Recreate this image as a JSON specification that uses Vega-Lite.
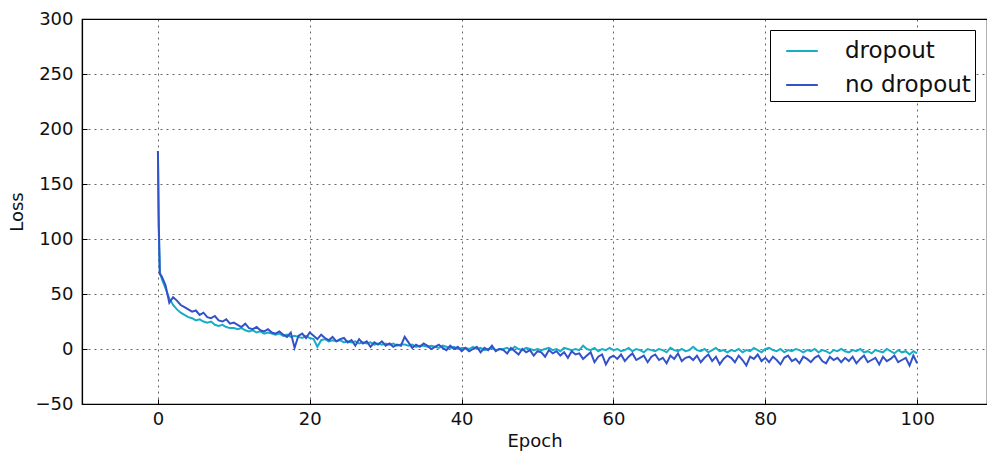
{
  "$schema": "https://vega.github.io/schema/vega-lite/v6.json",
  "autosize": {"type": "none"},
  "width": 905,
  "height": 385,
  "padding": {"left": 82, "top": 19, "right": 0, "bottom": 51},
  "background": "white",
  "config": {
    "font": "DejaVu Sans",
    "view": {"stroke": "black", "strokeWidth": 1.2},
    "axis": {
      "domainColor": "black", "domainWidth": 1.2,
      "tickColor": "black", "tickSize": -5,
      "labelFont": "DejaVu Sans", "labelFontSize": 18, "labelColor": "#111",
      "titleFont": "DejaVu Sans", "titleFontSize": 18, "titleFontWeight": "normal", "titleColor": "#111",
      "grid": true, "gridColor": "black", "gridOpacity": 0.6, "gridDash": [2, 4], "gridWidth": 1
    }
  },
  "data": {"values": [
    {"e":0,"dropout":180,"no dropout":180},
    {"e":0.1,"dropout":110,"no dropout":120},
    {"e":0.25,"dropout":70,"no dropout":68},
    {"e":0.5,"dropout":64,"no dropout":66},{"e":1,"dropout":55,"no dropout":58},{"e":1.5,"dropout":46,"no dropout":42},{"e":2,"dropout":40,"no dropout":47},{"e":2.5,"dropout":36,"no dropout":44},{"e":3,"dropout":33,"no dropout":40},{"e":3.5,"dropout":31,"no dropout":38},{"e":4,"dropout":29,"no dropout":36},{"e":4.5,"dropout":28,"no dropout":34},{"e":5,"dropout":26,"no dropout":35},
    {"e":5.5,"dropout":27,"no dropout":31},{"e":6,"dropout":25,"no dropout":33},{"e":6.5,"dropout":24,"no dropout":29},{"e":7,"dropout":25,"no dropout":28},{"e":7.5,"dropout":22,"no dropout":30},{"e":8,"dropout":21,"no dropout":26},{"e":8.5,"dropout":22,"no dropout":25},{"e":9,"dropout":20,"no dropout":27},{"e":9.5,"dropout":19,"no dropout":23},{"e":10,"dropout":19,"no dropout":24},
    {"e":10.5,"dropout":18,"no dropout":22},{"e":11,"dropout":19,"no dropout":20},{"e":11.5,"dropout":17,"no dropout":23},{"e":12,"dropout":16,"no dropout":19},{"e":12.5,"dropout":17,"no dropout":18},{"e":13,"dropout":15,"no dropout":20},{"e":13.5,"dropout":16,"no dropout":17},{"e":14,"dropout":14,"no dropout":16},{"e":14.5,"dropout":15,"no dropout":18},{"e":15,"dropout":14,"no dropout":15},
    {"e":15.5,"dropout":13,"no dropout":14},{"e":16,"dropout":14,"no dropout":16},{"e":16.5,"dropout":12,"no dropout":13},{"e":17,"dropout":13,"no dropout":11},{"e":17.5,"dropout":11,"no dropout":15},{"e":18,"dropout":12,"no dropout":1},{"e":18.5,"dropout":11,"no dropout":12},{"e":19,"dropout":10,"no dropout":14},{"e":19.5,"dropout":12,"no dropout":10},{"e":20,"dropout":10,"no dropout":15},
    {"e":20.5,"dropout":9,"no dropout":12},{"e":21,"dropout":2,"no dropout":9},{"e":21.5,"dropout":8,"no dropout":13},{"e":22,"dropout":9,"no dropout":10},{"e":22.5,"dropout":7,"no dropout":8},{"e":23,"dropout":8,"no dropout":11},{"e":23.5,"dropout":7,"no dropout":7},{"e":24,"dropout":8,"no dropout":9},{"e":24.5,"dropout":6,"no dropout":10},{"e":25,"dropout":7,"no dropout":6},
    {"e":25.5,"dropout":6,"no dropout":8},{"e":26,"dropout":7,"no dropout":3},{"e":26.5,"dropout":5,"no dropout":9},{"e":27,"dropout":6,"no dropout":5},{"e":27.5,"dropout":5,"no dropout":7},{"e":28,"dropout":6,"no dropout":2},{"e":28.5,"dropout":4,"no dropout":6},{"e":29,"dropout":5,"no dropout":4},{"e":29.5,"dropout":4,"no dropout":7},{"e":30,"dropout":5,"no dropout":3},
    {"e":30.5,"dropout":4,"no dropout":5},{"e":31,"dropout":5,"no dropout":2},{"e":31.5,"dropout":3,"no dropout":4},{"e":32,"dropout":4,"no dropout":3},{"e":32.5,"dropout":4,"no dropout":11},{"e":33,"dropout":3,"no dropout":6},{"e":33.5,"dropout":4,"no dropout":1},{"e":34,"dropout":2,"no dropout":4},{"e":34.5,"dropout":3,"no dropout":2},{"e":35,"dropout":3,"no dropout":5},
    {"e":35.5,"dropout":2,"no dropout":3},{"e":36,"dropout":3,"no dropout":0},{"e":36.5,"dropout":2,"no dropout":2},{"e":37,"dropout":1,"no dropout":4},{"e":37.5,"dropout":3,"no dropout":1},{"e":38,"dropout":2,"no dropout":-1},{"e":38.5,"dropout":1,"no dropout":3},{"e":39,"dropout":2,"no dropout":0},{"e":39.5,"dropout":0,"no dropout":2},{"e":40,"dropout":1,"no dropout":-2},
    {"e":40.5,"dropout":1,"no dropout":1},{"e":41,"dropout":0,"no dropout":-2},{"e":41.5,"dropout":2,"no dropout":0},{"e":42,"dropout":0,"no dropout":2},{"e":42.5,"dropout":1,"no dropout":-3},{"e":43,"dropout":-1,"no dropout":1},{"e":43.5,"dropout":0,"no dropout":-1},{"e":44,"dropout":1,"no dropout":3},{"e":44.5,"dropout":-1,"no dropout":-2},{"e":45,"dropout":0,"no dropout":0},
    {"e":45.5,"dropout":0,"no dropout":-1},{"e":46,"dropout":1,"no dropout":-4},{"e":46.5,"dropout":-1,"no dropout":1},{"e":47,"dropout":2,"no dropout":-2},{"e":47.5,"dropout":0,"no dropout":-5},{"e":48,"dropout":-1,"no dropout":0},{"e":48.5,"dropout":1,"no dropout":-3},{"e":49,"dropout":0,"no dropout":-1},{"e":49.5,"dropout":-1,"no dropout":-6},{"e":50,"dropout":0,"no dropout":-2},
    {"e":50.5,"dropout":-1,"no dropout":-3},{"e":51,"dropout":0,"no dropout":-7},{"e":51.5,"dropout":1,"no dropout":-1},{"e":52,"dropout":-1,"no dropout":-4},{"e":52.5,"dropout":0,"no dropout":-2},{"e":53,"dropout":-2,"no dropout":-6},{"e":53.5,"dropout":1,"no dropout":-3},{"e":54,"dropout":0,"no dropout":-8},{"e":54.5,"dropout":-1,"no dropout":-2},{"e":55,"dropout":0,"no dropout":-5},
    {"e":55.5,"dropout":-1,"no dropout":-4},{"e":56,"dropout":3,"no dropout":-9},{"e":56.5,"dropout":0,"no dropout":-6},{"e":57,"dropout":-1,"no dropout":-3},{"e":57.5,"dropout":1,"no dropout":-12},{"e":58,"dropout":-2,"no dropout":-7},{"e":58.5,"dropout":0,"no dropout":-5},{"e":59,"dropout":-1,"no dropout":-14},{"e":59.5,"dropout":1,"no dropout":-8},{"e":60,"dropout":-1,"no dropout":-6},
    {"e":60.5,"dropout":0,"no dropout":-9},{"e":61,"dropout":-2,"no dropout":-5},{"e":61.5,"dropout":-1,"no dropout":-11},{"e":62,"dropout":1,"no dropout":-7},{"e":62.5,"dropout":-2,"no dropout":-4},{"e":63,"dropout":0,"no dropout":-10},{"e":63.5,"dropout":-1,"no dropout":-8},{"e":64,"dropout":-3,"no dropout":-6},{"e":64.5,"dropout":0,"no dropout":-12},{"e":65,"dropout":-1,"no dropout":-7},
    {"e":65.5,"dropout":-2,"no dropout":-5},{"e":66,"dropout":0,"no dropout":-10},{"e":66.5,"dropout":-1,"no dropout":-8},{"e":67,"dropout":-3,"no dropout":-13},{"e":67.5,"dropout":1,"no dropout":-6},{"e":68,"dropout":-1,"no dropout":-9},{"e":68.5,"dropout":-2,"no dropout":-4},{"e":69,"dropout":0,"no dropout":-11},{"e":69.5,"dropout":-2,"no dropout":-8},{"e":70,"dropout":-1,"no dropout":-7},
    {"e":70.5,"dropout":2,"no dropout":-10},{"e":71,"dropout":-1,"no dropout":-6},{"e":71.5,"dropout":-2,"no dropout":-12},{"e":72,"dropout":0,"no dropout":-8},{"e":72.5,"dropout":-3,"no dropout":-5},{"e":73,"dropout":-1,"no dropout":-11},{"e":73.5,"dropout":1,"no dropout":-7},{"e":74,"dropout":-2,"no dropout":-14},{"e":74.5,"dropout":-1,"no dropout":-9},{"e":75,"dropout":-3,"no dropout":-6},
    {"e":75.5,"dropout":-1,"no dropout":-8},{"e":76,"dropout":-2,"no dropout":-12},{"e":76.5,"dropout":0,"no dropout":-6},{"e":77,"dropout":-3,"no dropout":-10},{"e":77.5,"dropout":-1,"no dropout":-15},{"e":78,"dropout":-2,"no dropout":-7},{"e":78.5,"dropout":1,"no dropout":-9},{"e":79,"dropout":-1,"no dropout":-5},{"e":79.5,"dropout":-3,"no dropout":-11},{"e":80,"dropout":0,"no dropout":-8},
    {"e":80.5,"dropout":1,"no dropout":-12},{"e":81,"dropout":-1,"no dropout":-7},{"e":81.5,"dropout":-2,"no dropout":-10},{"e":82,"dropout":0,"no dropout":-14},{"e":82.5,"dropout":-3,"no dropout":-8},{"e":83,"dropout":-1,"no dropout":-6},{"e":83.5,"dropout":-2,"no dropout":-11},{"e":84,"dropout":0,"no dropout":-9},{"e":84.5,"dropout":-1,"no dropout":-13},{"e":85,"dropout":-3,"no dropout":-7},
    {"e":85.5,"dropout":-1,"no dropout":-9},{"e":86,"dropout":-2,"no dropout":-12},{"e":86.5,"dropout":0,"no dropout":-8},{"e":87,"dropout":-3,"no dropout":-6},{"e":87.5,"dropout":-1,"no dropout":-11},{"e":88,"dropout":-2,"no dropout":-13},{"e":88.5,"dropout":-4,"no dropout":-7},{"e":89,"dropout":-1,"no dropout":-10},{"e":89.5,"dropout":-2,"no dropout":-8},{"e":90,"dropout":0,"no dropout":-12},
    {"e":90.5,"dropout":-2,"no dropout":-8},{"e":91,"dropout":-3,"no dropout":-11},{"e":91.5,"dropout":-1,"no dropout":-7},{"e":92,"dropout":-2,"no dropout":-13},{"e":92.5,"dropout":0,"no dropout":-9},{"e":93,"dropout":-3,"no dropout":-6},{"e":93.5,"dropout":-2,"no dropout":-12},{"e":94,"dropout":-4,"no dropout":-10},{"e":94.5,"dropout":-1,"no dropout":-8},{"e":95,"dropout":-2,"no dropout":-14},
    {"e":95.5,"dropout":-3,"no dropout":-7},{"e":96,"dropout":0,"no dropout":-11},{"e":96.5,"dropout":-2,"no dropout":-9},{"e":97,"dropout":-4,"no dropout":-6},{"e":97.5,"dropout":-1,"no dropout":-12},{"e":98,"dropout":-3,"no dropout":-10},{"e":98.5,"dropout":-2,"no dropout":-8},{"e":99,"dropout":-5,"no dropout":-15},{"e":99.5,"dropout":-2,"no dropout":-6},{"e":100,"dropout":-4,"no dropout":-13}
  ]},
  "transform": [{"fold": ["dropout", "no dropout"], "as": ["series", "loss"]}],
  "mark": {"type": "line", "strokeWidth": 2, "clip": true},
  "encoding": {
    "x": {
      "field": "e", "type": "quantitative",
      "scale": {"domain": [-10, 109.2], "nice": false, "zero": false},
      "axis": {"values": [0, 20, 40, 60, 80, 100], "title": "Epoch", "labelPadding": 11, "titlePadding": 4, "labelFlush": false}
    },
    "y": {
      "field": "loss", "type": "quantitative",
      "scale": {"domain": [-50, 300], "nice": false, "zero": false},
      "axis": {"values": [-50, 0, 50, 100, 150, 200, 250, 300], "title": "Loss", "labelPadding": 14, "titlePadding": 9, "labelFlush": false}
    },
    "color": {
      "field": "series", "type": "nominal",
      "scale": {"domain": ["dropout", "no dropout"], "range": ["#17adc6", "#3352c9"]},
      "legend": {
        "title": null, "orient": "none", "legendX": 688, "legendY": 11,
        "strokeColor": "black", "fillColor": "white", "padding": 4,
        "symbolType": "stroke", "symbolSize": 1000, "symbolStrokeWidth": 2, "symbolOffset": 11,
        "labelFontSize": 23, "labelFont": "DejaVu Sans", "labelColor": "#111",
        "labelOffset": 26, "rowPadding": 5, "cornerRadius": 0
      }
    }
  }
}
